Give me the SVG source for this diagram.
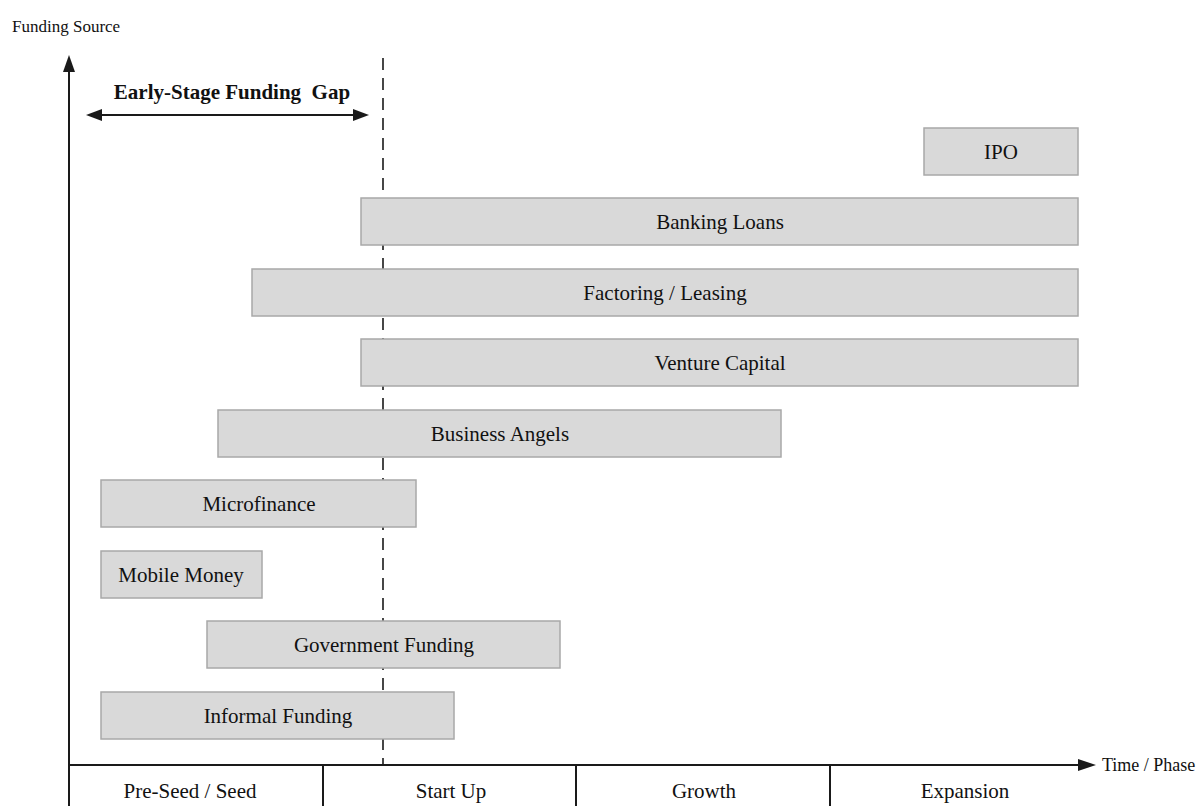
<svg xmlns="http://www.w3.org/2000/svg" width="1200" height="806" viewBox="0 0 1200 806">
<style>
  text { font-family: "Liberation Serif", "Times New Roman", serif; fill: #111; }
  .bar rect { fill: #d9d9d9; stroke: #a8a8a8; stroke-width: 1.5; }
  .bar text { font-size: 21px; text-anchor: middle; }
  .phase text { font-size: 21px; text-anchor: middle; }
  .ax { stroke: #1a1a1a; stroke-width: 2; fill: none; }
</style>
<rect width="1200" height="806" fill="#ffffff"/>

<text x="12" y="32" style="font-size:17px">Funding Source</text>

<g id="connectors">
  <line class="ax" x1="69" y1="70" x2="69" y2="806"/>
  <polygon points="69,55 63,72 75,72" fill="#1a1a1a"/>
  <line class="ax" x1="69" y1="765" x2="1080" y2="765"/>
  <polygon points="1096,765 1078,759 1078,771" fill="#1a1a1a"/>
  <line x1="383" y1="58" x2="383" y2="765" stroke="#1a1a1a" stroke-width="1.6" stroke-dasharray="12,8"/>
  <line x1="100" y1="115" x2="355" y2="115" stroke="#1a1a1a" stroke-width="1.8"/>
  <polygon points="86,115 102,109 102,121" fill="#1a1a1a"/>
  <polygon points="369,115 353,109 353,121" fill="#1a1a1a"/>
  <line class="ax" x1="323" y1="765" x2="323" y2="806"/>
  <line class="ax" x1="576" y1="765" x2="576" y2="806"/>
  <line class="ax" x1="830" y1="765" x2="830" y2="806"/>
</g>

<text x="232" y="99" style="font-size:21px;font-weight:bold;text-anchor:middle;white-space:pre" xml:space="preserve">Early-Stage Funding  Gap</text>

<g id="ipo" class="bar"><rect x="924" y="128" width="154" height="47"/><text x="1001" y="159">IPO</text></g>
<g id="banking-loans" class="bar"><rect x="361" y="198" width="717" height="47"/><text x="720" y="229">Banking Loans</text></g>
<g id="factoring-leasing" class="bar"><rect x="252" y="269" width="826" height="47"/><text x="665" y="300">Factoring / Leasing</text></g>
<g id="venture-capital" class="bar"><rect x="361" y="339" width="717" height="47"/><text x="720" y="370">Venture Capital</text></g>
<g id="business-angels" class="bar"><rect x="218" y="410" width="563" height="47"/><text x="500" y="441">Business Angels</text></g>
<g id="microfinance" class="bar"><rect x="101" y="480" width="315" height="47"/><text x="259" y="511">Microfinance</text></g>
<g id="mobile-money" class="bar"><rect x="101" y="551" width="161" height="47"/><text x="181" y="582">Mobile Money</text></g>
<g id="government-funding" class="bar"><rect x="207" y="621" width="353" height="47"/><text x="384" y="652">Government Funding</text></g>
<g id="informal-funding" class="bar"><rect x="101" y="692" width="353" height="47"/><text x="278" y="723">Informal Funding</text></g>

<g id="phase-preseed" class="phase"><text x="190" y="798">Pre-Seed / Seed</text></g>
<g id="phase-startup" class="phase"><text x="451" y="798">Start Up</text></g>
<g id="phase-growth" class="phase"><text x="704" y="798">Growth</text></g>
<g id="phase-expansion" class="phase"><text x="965" y="798">Expansion</text></g>

<text x="1102" y="771" style="font-size:18px">Time / Phase</text>
</svg>
